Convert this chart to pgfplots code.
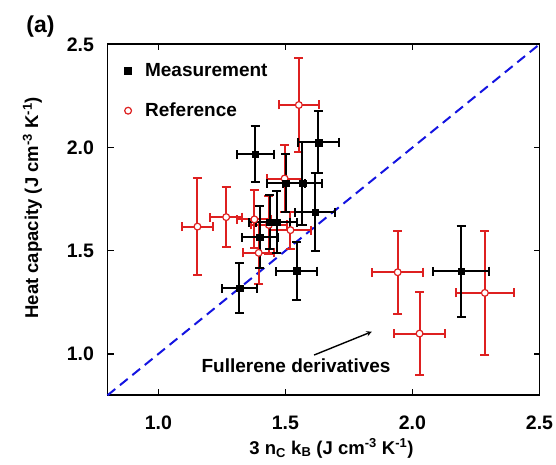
\documentclass[border=0pt]{standalone}
\usepackage{fontspec}
\setmainfont{Liberation Sans}
\usepackage{pgfplots}
\pgfplotsset{compat=1.18}

\definecolor{refred}{RGB}{222,32,32}
\definecolor{diagblue}{RGB}{20,20,225}

\begin{document}
\begin{tikzpicture}
\path[use as bounding box] (-107.5pt,-69.7pt) rectangle (448.5pt,395.3pt);
\begin{axis}[
at={(0,0)}, anchor=south west,
width=432pt, height=351pt, scale only axis,
xmin=0.8, xmax=2.5, ymin=0.8, ymax=2.5,
xtick={1.0,1.5,2.0,2.5}, ytick={1.0,1.5,2.0,2.5},
tick align=inside, major tick length=6pt,
axis line style={line width=1.8pt},
every tick/.style={line width=1.4pt, black},
/pgf/number format/.cd, fixed, fixed zerofill, precision=1, assume math mode=true,
/pgfplots/.cd,
ticklabel style={font=\fontsize{19.5}{19.5}\selectfont\bfseries},
yticklabel style={xshift=-10pt},
xticklabel style={yshift=-17pt},
xlabel={3 n\textsubscript{C} k\textsubscript{B} (J cm\textsuperscript{-3} K\textsuperscript{-1})},
ylabel={Heat capacity (J cm\textsuperscript{-3} K\textsuperscript{-1})},
label style={font=\fontsize{18.5}{19}\selectfont\bfseries},
xlabel style={at={(rel axis cs:0.5,0)}, anchor=center, yshift=-53pt, xshift=8pt},
ylabel style={at={(rel axis cs:0,0.5)}, anchor=center, yshift=75pt, xshift=12pt},
clip=false,
reverse legend,
legend style={draw=none, fill=none, at={(rel axis cs:0,1)}, anchor=north west,
  xshift=14pt, yshift=-15pt, font=\fontsize{19}{19}\selectfont\bfseries, row sep=21pt},
legend image code/.code={\draw[#1] plot coordinates {(0pt,0pt)}; \path[draw=none] (0pt,0pt) (15pt,0pt);},
legend cell align=left,
]
% diagonal
\addplot[diagblue, line width=2pt, dash pattern=on 10pt off 6pt, forget plot]
  coordinates {(0.8,0.8) (2.5,2.5)};

% reference (red, open circles)
\addplot[only marks, mark=*, mark size=3.4pt, refred,
  mark options={fill=white, line width=1.2pt},
  error bars/.cd, x dir=both, x explicit, y dir=both, y explicit,
  error bar style={line width=2pt, refred},
  error mark options={rotate=90, mark size=4.5pt, line width=2pt, refred}]
  table[x=x, y=y, x error=ex, y error=ey] {
x y ex ey
1.553 2.206 0.080 0.230
1.154 1.617 0.060 0.235
1.267 1.663 0.062 0.145
1.378 1.652 0.067 0.140
1.497 1.850 0.070 0.160
1.435 1.625 0.070 0.140
1.395 1.490 0.060 0.150
1.520 1.600 0.080 0.090
1.942 1.396 0.100 0.200
2.028 1.099 0.100 0.200
2.285 1.296 0.115 0.300
};

% measurement (black squares)
\addplot[only marks, mark=square*, mark size=3.4pt, black,
  error bars/.cd, x dir=both, x explicit, y dir=both, y explicit,
  error bar style={line width=2pt, black},
  error mark options={rotate=90, mark size=4.5pt, line width=2pt, black}]
  table[x=x, y=y, x error=ex, y error=ey] {
x y ex ey
1.381 1.968 0.073 0.135
1.630 2.025 0.080 0.150
1.502 1.827 0.075 0.140
1.567 1.827 0.076 0.200
1.617 1.687 0.080 0.190
1.438 1.638 0.080 0.130
1.466 1.638 0.080 0.150
1.400 1.566 0.070 0.150
1.319 1.319 0.068 0.120
1.544 1.402 0.080 0.140
2.192 1.401 0.110 0.220
};

\legend{Reference, Measurement}

\draw[-stealth, line width=1.4pt] (axis cs:1.613,0.995) -- (axis cs:1.840,1.108);
\node[font=\fontsize{19}{19}\selectfont\bfseries] at (axis cs:1.542,0.942) {Fullerene derivatives};
\node[font=\fontsize{23}{23}\selectfont\bfseries] at (rel axis cs:-0.155,1.05) {(a)};
\end{axis}
\end{tikzpicture}
\end{document}
